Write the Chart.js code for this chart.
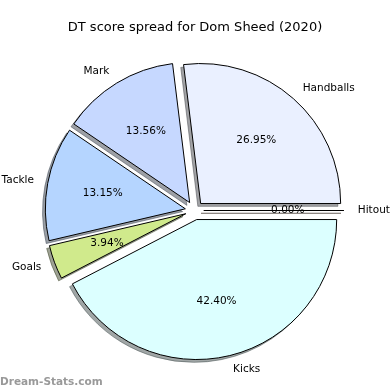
<!DOCTYPE html>
<html>
<head>
<meta charset="utf-8">
<script src="https://cdn.jsdelivr.net/npm/chart.js@4"></script>
<style>
  body { margin: 0; background: #fff; }
</style>
</head>
<body>
<canvas id="scoreChart" width="390" height="390"></canvas>
<script>
// slices in clockwise order, starting at 3 o'clock
const categories = ['Hitout', 'Kicks', 'Goals', 'Tackle', 'Mark', 'Handballs'];
const shares = [0.00, 42.40, 3.94, 13.15, 13.56, 26.95];
const sliceColors = ['#ffe4cc', '#dcffff', '#d0ea8c', '#b5d5ff', '#c6d8ff', '#eaf0ff'];

const titleText = 'DT score spread for Dom Sheed (2020)';
const watermark = 'Dream-Stats.com';

const EXPLODE = 9.3;     // px each slice is pulled out
const SHADOW_DX = -2.8;
const SHADOW_DY = 2.8;
const LABEL_FONT = '10.5px "DejaVu Sans"';

function shadowColor(hex) {
    const n = parseInt(hex.slice(1), 16);
    const rgb = [(n >> 16) & 255, (n >> 8) & 255, n & 255].map(c => Math.round(c * 0.3));
    return 'rgba(' + rgb.join(',') + ',0.5)';
}

function wedgePath(ctx, x, y, r, a0, a1) {
    ctx.beginPath();
    ctx.moveTo(x, y);
    ctx.arc(x, y, r, a0, a1);
    ctx.closePath();
}

// pull every slice out along its middle angle
const explodePlugin = {
    id: 'explode',
    afterDatasetUpdate(chart, args) {
        args.meta.data.forEach(arc => {
            const mid = (arc.startAngle + arc.endAngle) / 2;
            arc.x += EXPLODE * Math.cos(mid);
            arc.y += EXPLODE * Math.sin(mid);
        });
    }
};

const shadowPlugin = {
    id: 'shadow',
    beforeDatasetsDraw(chart) {
        const ctx = chart.ctx;
        ctx.save();
        ctx.lineWidth = 1;
        chart.getDatasetMeta(0).data.forEach((arc, i) => {
            const c = shadowColor(sliceColors[i]);
            ctx.fillStyle = c;
            ctx.strokeStyle = c;
            wedgePath(ctx, arc.x + SHADOW_DX, arc.y + SHADOW_DY, arc.outerRadius, arc.startAngle, arc.endAngle);
            if (arc.circumference > 0) ctx.fill();
            ctx.stroke();
        });
        ctx.restore();
    }
};

const labelPlugin = {
    id: 'pieLabels',
    afterDatasetsDraw(chart) {
        const ctx = chart.ctx;
        const arcs = chart.getDatasetMeta(0).data;
        const total = shares.reduce((a, b) => a + b, 0);
        ctx.save();

        // zero slices are only an edge line
        ctx.strokeStyle = '#000';
        ctx.lineWidth = 1;
        arcs.forEach(arc => {
            if (arc.circumference === 0) {
                wedgePath(ctx, arc.x, arc.y, arc.outerRadius, arc.startAngle, arc.endAngle);
                ctx.stroke();
            }
        });

        ctx.font = LABEL_FONT;
        ctx.fillStyle = '#000';
        ctx.textBaseline = 'middle';
        arcs.forEach((arc, i) => {
            const mid = (arc.startAngle + arc.endAngle) / 2;
            const cos = Math.cos(mid), sin = Math.sin(mid);
            const r = arc.outerRadius;

            const lx = arc.x + 1.1 * r * cos;
            const ly = arc.y + 1.1 * r * sin;
            ctx.textAlign = cos > 0 ? 'left' : 'right';
            ctx.fillText(categories[i], lx, ly);

            ctx.textAlign = 'center';
            const pct = (shares[i] / total * 100).toFixed(2) + '%';
            ctx.fillText(pct, arc.x + 0.6 * r * cos, arc.y + 0.6 * r * sin);
        });

        // title
        ctx.font = '13px "DejaVu Sans"';
        ctx.fillStyle = '#000';
        ctx.textAlign = 'center';
        ctx.textBaseline = 'alphabetic';
        ctx.fillText(titleText, 195, 31);

        // watermark
        ctx.font = 'bold 10.5px "DejaVu Sans"';
        ctx.fillStyle = 'rgba(128,128,128,0.8)';
        ctx.textAlign = 'left';
        ctx.fillText(watermark, 0, 385);
        ctx.restore();
    }
};

new Chart(document.getElementById('scoreChart'), {
    type: 'pie',
    data: {
        labels: categories,
        datasets: [{
            data: shares,
            backgroundColor: sliceColors,
            borderColor: '#000',
            borderWidth: 1
        }]
    },
    options: {
        responsive: false,
        animation: false,
        events: [],
        rotation: 90,
        radius: 140,
        layout: { padding: { left: 5, right: 6, top: 31, bottom: 0 } },
        plugins: {
            legend: { display: false },
            tooltip: { enabled: false }
        }
    },
    plugins: [explodePlugin, shadowPlugin, labelPlugin]
});
</script>
</body>
</html>
